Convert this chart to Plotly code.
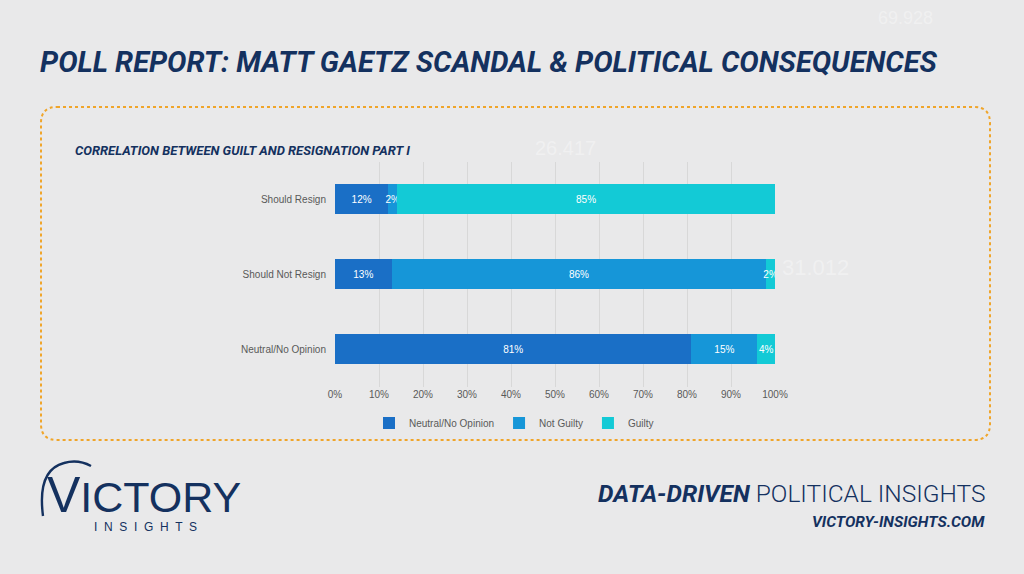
import plotly.graph_objects as go

W, H = 1024, 574

categories = ["Should Resign", "Should Not Resign", "Neutral/No Opinion"]
series_names = ["Neutral/No Opinion", "Not Guilty", "Guilty"]
neutral_vals = [12, 13, 81]
not_guilty_vals = [2, 86, 15]
guilty_vals = [85, 2, 4]
series_values = [neutral_vals, not_guilty_vals, guilty_vals]
series_colors = ["#1a6fc6", "#1696d8", "#13cad6"]
tick_vals = [0, 10, 20, 30, 40, 50, 60, 70, 80, 90, 100]
tick_text = [f"{v}%" for v in tick_vals]

NAVY = "#14315f"
COND = "Roboto, Liberation Sans Narrow, sans-serif"
BODY = "Liberation Sans, Arial, sans-serif"


def px(x):
    return x / W


def py(y):
    return 1 - y / H


fig = go.Figure()
for name, vals, col in zip(series_names, series_values, series_colors):
    fig.add_trace(go.Bar(
        y=categories, x=vals, name=name, orientation="h",
        marker=dict(color=col, line=dict(width=0)),
        text=[f"{v}%" for v in vals], textposition="inside", textangle=0,
        insidetextanchor="middle", constraintext="none",
        textfont=dict(color="white", size=10, family=BODY),
        hoverinfo="skip",
    ))

# rounded dotted frame
x0, y0, x1, y1, r = 41, 107, 990, 440, 16
path = (
    f"M {px(x0 + r)} {py(y0)} L {px(x1 - r)} {py(y0)} "
    f"Q {px(x1)} {py(y0)} {px(x1)} {py(y0 + r)} "
    f"L {px(x1)} {py(y1 - r)} Q {px(x1)} {py(y1)} {px(x1 - r)} {py(y1)} "
    f"L {px(x0 + r)} {py(y1)} Q {px(x0)} {py(y1)} {px(x0)} {py(y1 - r)} "
    f"L {px(x0)} {py(y0 + r)} Q {px(x0)} {py(y0)} {px(x0 + r)} {py(y0)} Z"
)
shapes = [dict(type="path", xref="paper", yref="paper", path=path,
               line=dict(color="#f0a52a", width=2, dash="dot"))]
# logo arc
arc = (f"M {px(43)} {py(516)} Q {px(37)} {py(470)} {px(64)} {py(463)} "
       f"Q {px(78)} {py(459)} {px(91)} {py(466)}")
shapes.append(dict(type="path", xref="paper", yref="paper", path=arc,
                   line=dict(color=NAVY, width=2.4)))

annotations = [
    dict(text="<b><i>POLL REPORT: MATT GAETZ SCANDAL &amp; POLITICAL CONSEQUENCES</i></b>",
         x=px(38), y=py(62), xref="paper", yref="paper", xanchor="left", yanchor="middle",
         showarrow=False, font=dict(family=COND, size=29, color=NAVY)),
    dict(text="<b><i>CORRELATION BETWEEN GUILT AND RESIGNATION PART I</i></b>",
         x=px(73), y=py(151), xref="paper", yref="paper", xanchor="left", yanchor="middle",
         showarrow=False, font=dict(family=COND, size=13, color=NAVY)),
    dict(text="<b><i>DATA-DRIVEN</i></b> POLITICAL INSIGHTS",
         x=px(988), y=py(493), xref="paper", yref="paper", xanchor="right", yanchor="middle",
         showarrow=False, font=dict(family=COND, size=24.5, color=NAVY, weight=300)),
    dict(text="<b><i>VICTORY-INSIGHTS.COM</i></b>",
         x=px(987), y=py(522), xref="paper", yref="paper", xanchor="right", yanchor="middle",
         showarrow=False, font=dict(family=COND, size=15.5, color=NAVY)),
    dict(text="<span style='font-size:50px'>V</span>ICTORY",
         x=px(45), y=py(495), xref="paper", yref="paper", xanchor="left", yanchor="middle",
         showarrow=False, font=dict(family=BODY, size=43, color=NAVY)),
    dict(text="I  N  S  I  G  H  T  S",
         x=px(145), y=py(527), xref="paper", yref="paper", xanchor="center", yanchor="middle",
         showarrow=False, font=dict(family=BODY, size=12, color=NAVY)),
]
# faint background numbers
for t, xx, yy, s in [("69.928", 905, 18, 18), ("26.417", 565, 148, 20), ("31.012", 815, 268, 22)]:
    annotations.append(dict(text=t, x=px(xx), y=py(yy), xref="paper", yref="paper",
                            xanchor="center", yanchor="middle", showarrow=False,
                            font=dict(family=BODY, size=s, color="rgba(255,255,255,0.35)")))

fig.update_layout(
    width=W, height=H, autosize=False,
    margin=dict(l=0, r=0, t=0, b=0, autoexpand=False),
    paper_bgcolor="#e9e9ea", plot_bgcolor="rgba(0,0,0,0)",
    barmode="stack", barnorm="percent", bargap=0.6,
    uniformtext=dict(minsize=10, mode="show"),
    xaxis=dict(domain=[px(335), px(775)], range=[0, 100], tickvals=tick_vals, ticktext=tick_text,
               showgrid=True, gridcolor="#d8d8d8", gridwidth=1, zeroline=False,
               showline=False, ticks="", tickfont=dict(size=10, color="#595959", family=BODY),
               fixedrange=True, automargin=False),
    yaxis=dict(domain=[py(386.5), py(161.5)], categoryorder="array",
               categoryarray=categories[::-1], showgrid=False, zeroline=False,
               ticks="", ticklabelstandoff=8, automargin=False,
               tickfont=dict(size=10, color="#595959", family=BODY)),
    showlegend=True,
    legend=dict(orientation="h", x=px(369), xanchor="left", y=py(423), yanchor="middle",
                font=dict(size=10, color="#595959", family=BODY),
                bgcolor="rgba(0,0,0,0)", itemwidth=30, traceorder="normal"),
    shapes=shapes, annotations=annotations,
)

fig.write_html(
    "out.html",
    config={"responsive": False, "displayModeBar": False},
    post_script="document.body.style.margin='0';document.body.style.overflow='hidden';",
)
